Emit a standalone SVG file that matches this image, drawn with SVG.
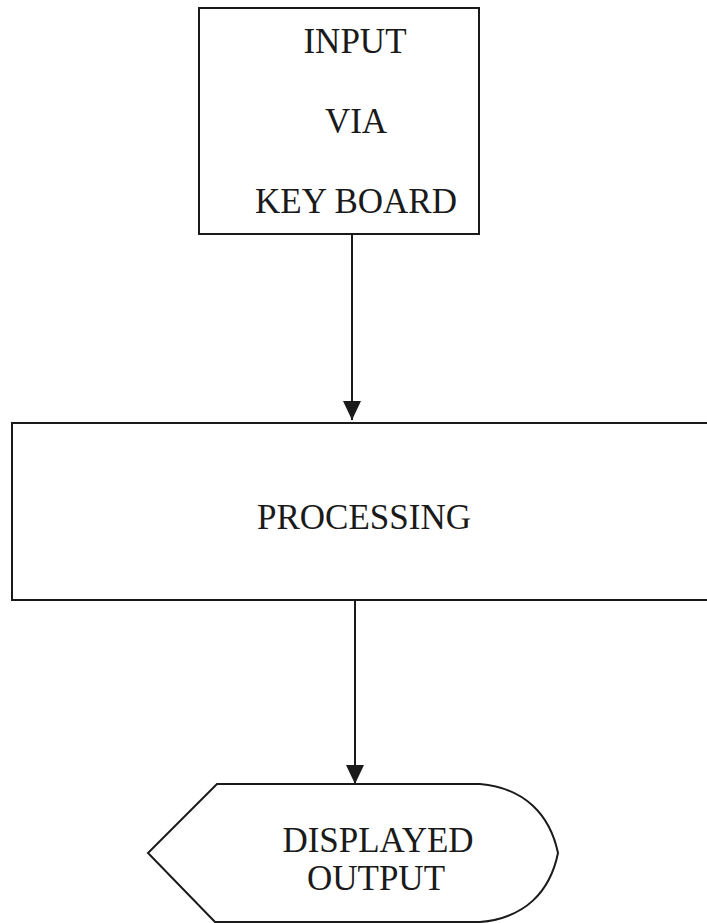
<svg xmlns="http://www.w3.org/2000/svg" width="707" height="923" viewBox="0 0 707 923">
<style>
.box{fill:#fff;stroke:#1a1a1a;stroke-width:2}
.lbl{font-family:"Liberation Serif","Times New Roman",serif;font-size:35px;fill:#1a1a1a;text-anchor:middle}
.conn{stroke:#1a1a1a;stroke-width:2;fill:none}
</style>
<defs>
<marker id="ah" markerWidth="20" markerHeight="18" refX="19" refY="9" orient="auto" markerUnits="userSpaceOnUse">
<path d="M0,0 L19,9 L0,18 Z" fill="#1a1a1a"/>
</marker>
</defs>
<rect width="707" height="923" fill="#fff"/>
<g id="connectors">
<line class="conn" x1="352" y1="234" x2="352" y2="420" marker-end="url(#ah)"/>
<line class="conn" x1="355" y1="601" x2="355" y2="784" marker-end="url(#ah)"/>
</g>
<g id="input">
<rect class="box" x="199" y="8" width="280" height="226"/>
<text class="lbl" x="355" y="53">INPUT</text>
<text class="lbl" x="356" y="133">VIA</text>
<text class="lbl" x="356" y="213">KEY BOARD</text>
</g>
<g id="processing">
<rect class="box" x="12" y="423" width="696" height="177"/>
<text class="lbl" x="364" y="529">PROCESSING</text>
</g>
<g id="display">
<path class="box" d="M217,784 L480,784 C525,788 550,815 558,853 C550,892 525,918 480,922 L215,922 L148,853 Z"/>
<text class="lbl" x="378" y="852">DISPLAYED</text>
<text class="lbl" x="376" y="890">OUTPUT</text>
</g>
</svg>
